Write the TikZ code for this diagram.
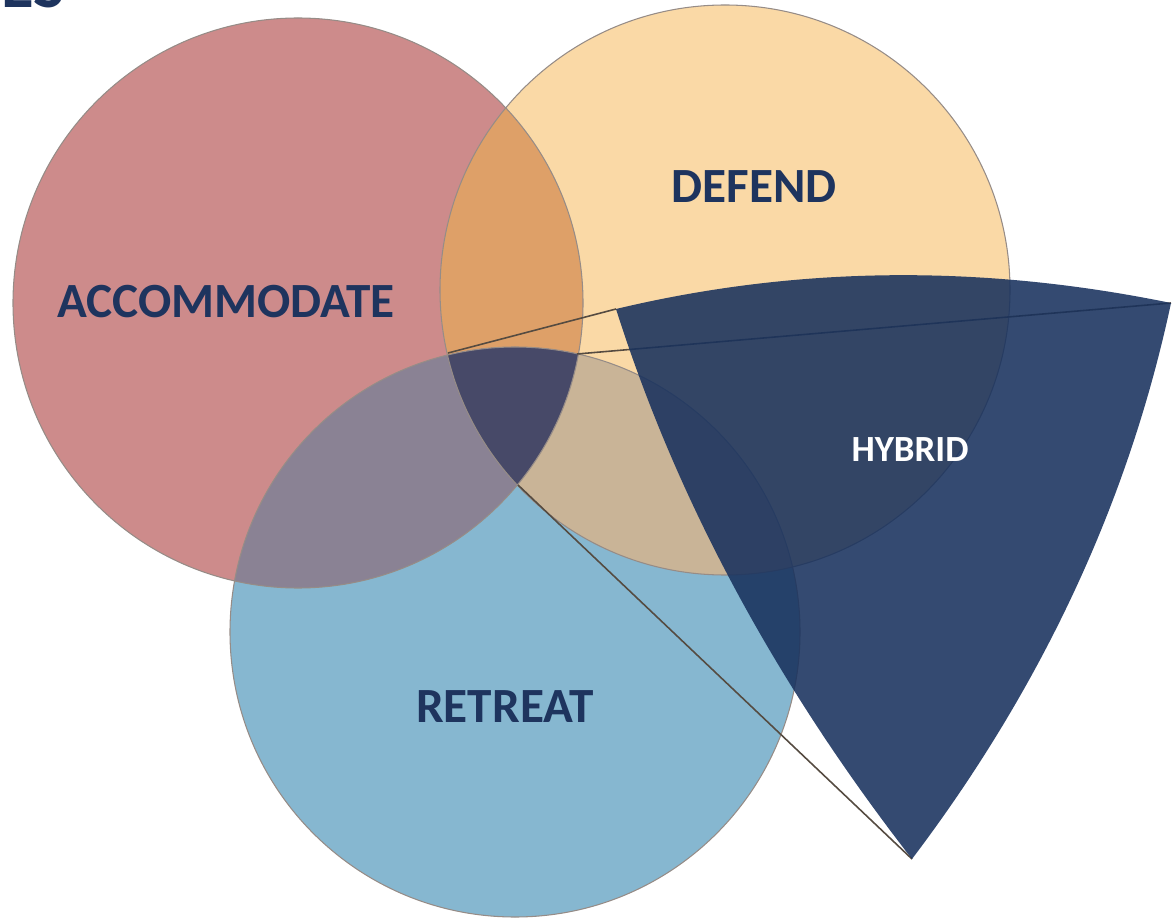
\documentclass[tikz,border=0pt]{standalone}
\usepackage{fontspec}
\setmainfont{Carlito}
\definecolor{redc}{RGB}{205,139,139}
\definecolor{yellowc}{RGB}{250,217,166}
\definecolor{bluec}{RGB}{134,183,208}
\definecolor{redyellow}{RGB}{222,160,104}
\definecolor{redblue}{RGB}{138,130,148}
\definecolor{yellowblue}{RGB}{201,180,151}
\definecolor{allthree}{RGB}{71,73,104}
\definecolor{hybridc}{RGB}{24,49,93}
\definecolor{labelc}{RGB}{30,52,94}
\definecolor{rimc}{RGB}{150,140,135}
\definecolor{linec}{RGB}{85,75,65}
\begin{document}
\begin{tikzpicture}[x=0.02cm, y=-0.02cm,
	rim/.style={draw=rimc, line width=0.6pt},
	edge/.style={draw=linec, line width=0.9pt},
	biglabel/.style={text=labelc, font=\fontsize{28}{32}\selectfont\bfseries},
	smalllabel/.style={text=white, font=\fontsize{21}{25}\selectfont\bfseries}]
	\useasboundingbox (0,0) rectangle (1176,918);
	%centres
		\coordinate (acc) at (298,303);
		\coordinate (def) at (725,290);
		\coordinate (ret) at (515,632);
		
	%circles
		\fill[redc] (acc) circle (285);
		\fill[yellowc] (def) circle (285);
		\fill[bluec] (ret) circle (285);
		\begin{scope}
			\clip (acc) circle (285);
			\fill[redyellow] (def) circle (285);
			\fill[redblue] (ret) circle (285);
			\clip (def) circle (285);
			\fill[allthree] (ret) circle (285);
		\end{scope}
		\begin{scope}
			\clip (def) circle (285);
			\clip (ret) circle (285);
			\clip (-10,-10) rectangle (1200,950) (acc) circle (285);
			\fill[yellowblue] (ret) circle (285);
		\end{scope}
		\foreach \c in {acc, def, ret}{
			\draw[rim] (\c) circle (285);
		}
		
	%wedge lines
		\coordinate (p1) at (448,353);
		\coordinate (p2) at (577,354);
		\coordinate (p3) at (518,485);
		\coordinate (tl) at (616,309);
		\coordinate (tr) at (1171,303);
		\coordinate (tip) at (912,859);
		\draw[edge] (p1)--(tl);
		\draw[edge] (p2)--(tr);
		\draw[edge] (p3)--(tip);
		
	%hybrid wedge
		\fill[hybridc, fill opacity=0.88] (tl) .. controls (796,266) and (981,264) .. (tr)
			.. controls (1129,500) and (1043,686) .. (tip)
			.. controls (776,684) and (677,501) .. (tl) -- cycle;
		
	%labels
		\node[biglabel] (accl) at (226,302) {ACCOMMODATE};
		\node[biglabel] (defl) at (754,187) {DEFEND};
		\node[biglabel] (retl) at (505,707) {RETREAT};
		\node[smalllabel] (hybl) at (910,450) {HYBRID};
		\node[biglabel, font=\fontsize{38}{42}\selectfont\bfseries, anchor=base west, inner sep=0pt] (title) at (1,8) {ES};
\end{tikzpicture}
\end{document}
